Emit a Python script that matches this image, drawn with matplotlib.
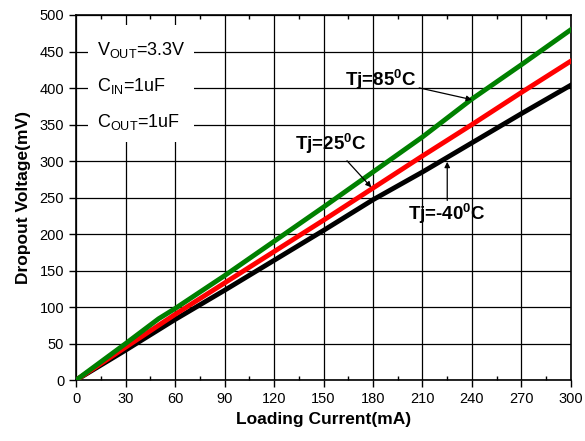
import matplotlib
matplotlib.use('Agg')
import matplotlib.pyplot as plt
from matplotlib.patches import Rectangle
from matplotlib.ticker import MultipleLocator

plt.rcParams['font.family'] = ['Liberation Sans', 'DejaVu Sans']
plt.rcParams['mathtext.fontset'] = 'custom'
plt.rcParams['mathtext.rm'] = 'Liberation Sans'
plt.rcParams['mathtext.bf'] = 'Liberation Sans:bold'

# data
current = [0, 30, 50, 60, 90, 120, 150, 180, 210, 240, 270, 300]
v_85 = [0, 50, 84, 98, 143, 190, 237, 285, 333, 385, 432, 480]
v_25 = [0, 45, 75, 90, 133, 176, 219, 263, 307, 350, 394, 437]
v_m40 = [0, 41, 69, 83, 123, 164, 205, 247, 285, 325, 365, 404]

fig = plt.figure(figsize=(5.85, 4.41), dpi=100)
ax = fig.add_axes([0.130, 0.138, 0.846, 0.828])

ax.plot(current, v_m40, c='black', lw=3.5, zorder=3)
ax.plot(current, v_25, c='red', lw=3.5, zorder=4)
ax.plot(current, v_85, c='green', lw=3.5, zorder=5)

ax.set_xlim(0, 300)
ax.set_ylim(0, 500)
ax.xaxis.set_major_locator(MultipleLocator(30))
ax.xaxis.set_minor_locator(MultipleLocator(15))
ax.yaxis.set_major_locator(MultipleLocator(50))
ax.grid(True, which='major', color='black', lw=0.9, zorder=1)
ax.set_axisbelow(True)

ax.tick_params(axis='both', which='major', direction='out', length=5,
               width=1, labelsize=10.5)
ax.tick_params(axis='x', which='minor', direction='out', length=3, width=1)
ax.tick_params(top=True, which='minor', direction='in')
for s in ax.spines.values():
    s.set_linewidth(1.2)

ax.set_xlabel('Loading Current(mA)', fontsize=12.5, fontweight='bold', labelpad=4)
ax.set_ylabel('Dropout Voltage(mV)', fontsize=12.5, fontweight='bold', labelpad=6)

# conditions box
ax.add_patch(Rectangle((7.3, 326), 64, 160, facecolor='white',
                       edgecolor='none', zorder=2))
ax.text(13, 452, r'V$_{\mathrm{OUT}}$=3.3V', fontsize=13, va='center', zorder=6)
ax.text(13, 403, r'C$_{\mathrm{IN}}$=1uF', fontsize=13, va='center', zorder=6)
ax.text(13, 353, r'C$_{\mathrm{OUT}}$=1uF', fontsize=13, va='center', zorder=6)

arrow = dict(arrowstyle='-|>', color='black', lw=0.9, mutation_scale=8)
ax.annotate(r'Tj=85$^{\mathbf{0}}$C', xy=(240, 384), xytext=(163, 412),
            fontsize=13.5, fontweight='bold', va='center', ha='left',
            arrowprops=dict(arrow, shrinkA=0, shrinkB=0), zorder=6)
ax.annotate(r'Tj=25$^{\mathbf{0}}$C', xy=(179, 264), xytext=(133, 324),
            fontsize=13.5, fontweight='bold', va='center', ha='left',
            arrowprops=dict(arrow, shrinkA=2, shrinkB=0), zorder=6)
ax.text(225, 228, r'Tj=-40$^{\mathbf{0}}$C', fontsize=13.5, fontweight='bold',
        va='center', ha='center', zorder=6)
ax.annotate('', xy=(225, 299), xytext=(225, 246),
            arrowprops=dict(arrow, shrinkA=0, shrinkB=0), zorder=6)

plt.savefig('out.png', dpi=100)
